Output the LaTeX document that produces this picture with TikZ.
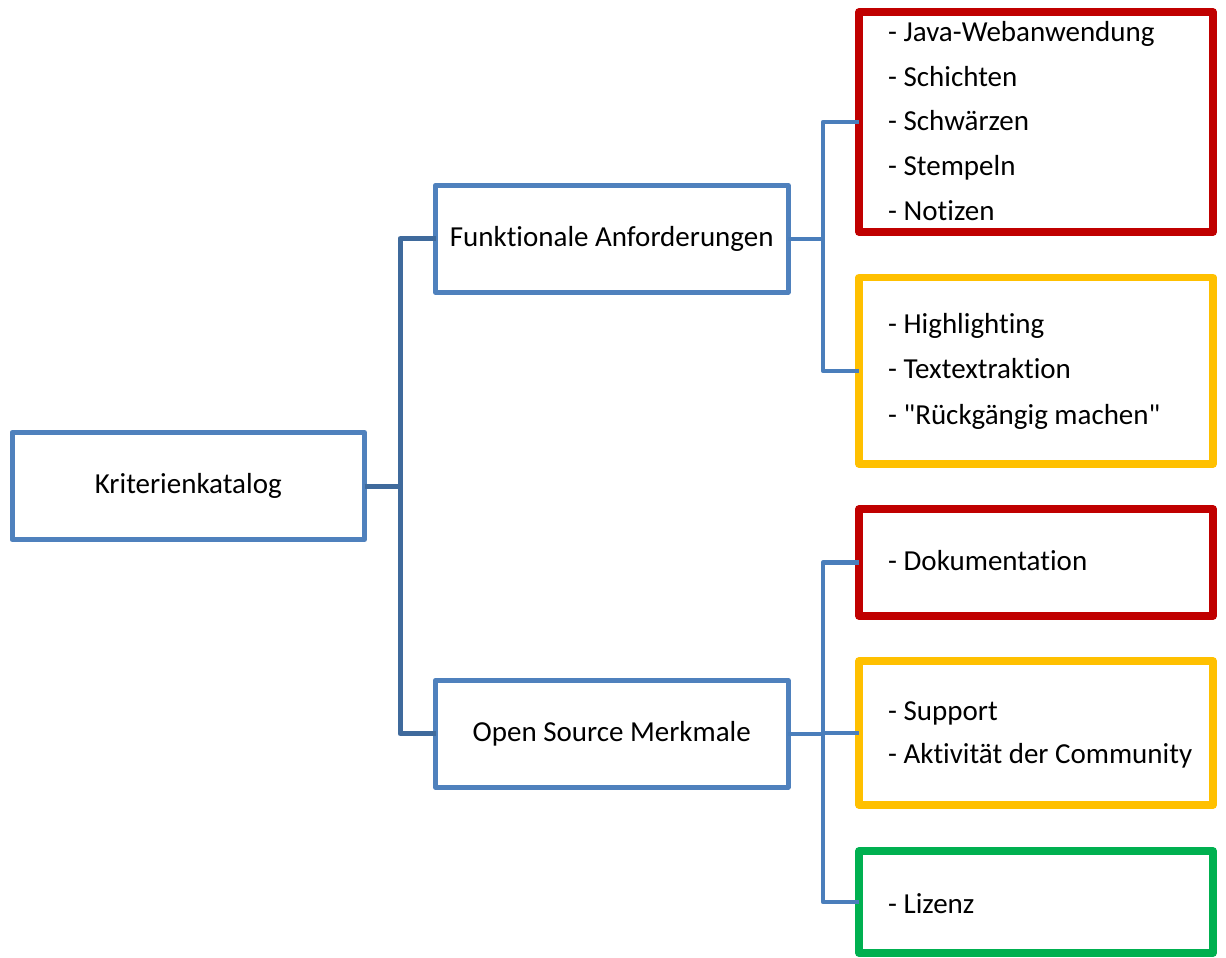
\documentclass[tikz,border=0pt]{standalone}
\usepackage{fontspec}
\setmainfont{Carlito}[Ligatures={TeXOff,NoCommon}]
\definecolor{boxblue}{HTML}{4F81BD}
\definecolor{linkdark}{HTML}{3F6A9C}
\definecolor{linkblue}{HTML}{4A7EBB}
\definecolor{critred}{HTML}{C00000}
\definecolor{crityellow}{HTML}{FFC000}
\definecolor{critgreen}{HTML}{00B050}
\begin{document}
\begin{tikzpicture}[x=1pt,y=-1pt,
  txt/.style={font=\fontsize{29}{35}\selectfont},
  bluebox/.style={draw=boxblue,line width=5pt,line join=round,rectangle,
    inner sep=0pt,outer sep=0pt,minimum width=352.5pt,minimum height=107pt,txt},
  listbox/.style={draw=#1,line width=7.5pt,line join=round,rectangle,
    inner sep=0pt,outer sep=0pt,minimum width=354pt},
  item/.style={txt,inner sep=0pt,anchor=base west},
  linkleft/.style={draw=linkdark,line width=5pt,line join=round},
  linkright/.style={draw=linkblue,line width=4.5pt,line join=round}]
\useasboundingbox (0,0) rectangle (1226,958);
\fill[white] (0,0) rectangle (1226,958);

% root and the two groups
\node[bluebox] (krit) at (188.25,486) {Kriterienkatalog};
\node[bluebox] (funk) at (611.75,238.75) {Funktionale Anforderungen};
\node[bluebox] (oss)  at (611.75,733.75) {Open Source Merkmale};

% criteria boxes
\node[listbox=critred,minimum height=220pt]    (r1) at (1036,122) {};
\node[listbox=crityellow,minimum height=186.5pt] (y1) at (1036,370.75) {};
\node[listbox=critred,minimum height=107pt]    (r2) at (1036,562.5) {};
\node[listbox=crityellow,minimum height=144pt] (y2) at (1036,733) {};
\node[listbox=critgreen,minimum height=102pt]  (g1) at (1036,902) {};

% criteria texts
\node[item] (r1a) at (888,41.7)  {- Java-Webanwendung};
\node[item] (r1b) at (888,86.3)  {- Schichten};
\node[item] (r1c) at (888,130.9) {- Schwärzen};
\node[item] (r1d) at (888,175.5) {- Stempeln};
\node[item] (r1e) at (888,220.1) {- Notizen};

\node[item] (y1a) at (888,333.5) {- Highlighting};
\node[item] (y1b) at (888,378.8) {- Textextraktion};
\node[item] (y1c) at (888,424.1) {- "Rückgängig machen"};

\node[item] (r2a) at (888,570)   {- Dokumentation};

\node[item] (y2a) at (888,720)   {- Support};
\node[item] (y2b) at (888,763.5) {- Aktivität der Community};

\node[item] (g1a) at (888,913)   {- Lizenz};

% connectors
\draw[linkleft] (krit.east) -- ++(35.5,0) |- (funk.west);
\draw[linkleft] (krit.east) -- ++(35.5,0) |- (oss.west);

\draw[linkright] (funk.east) -- ++(35,0) |- (r1.west);
\draw[linkright] (funk.east) -- ++(35,0) |- (y1.west);

\draw[linkright] (oss.east) -- ++(35,0) |- (r2.west);
\draw[linkright] (oss.east) -- ++(35,0) |- (y2.west);
\draw[linkright] (oss.east) -- ++(35,0) |- (g1.west);
\end{tikzpicture}
\end{document}
